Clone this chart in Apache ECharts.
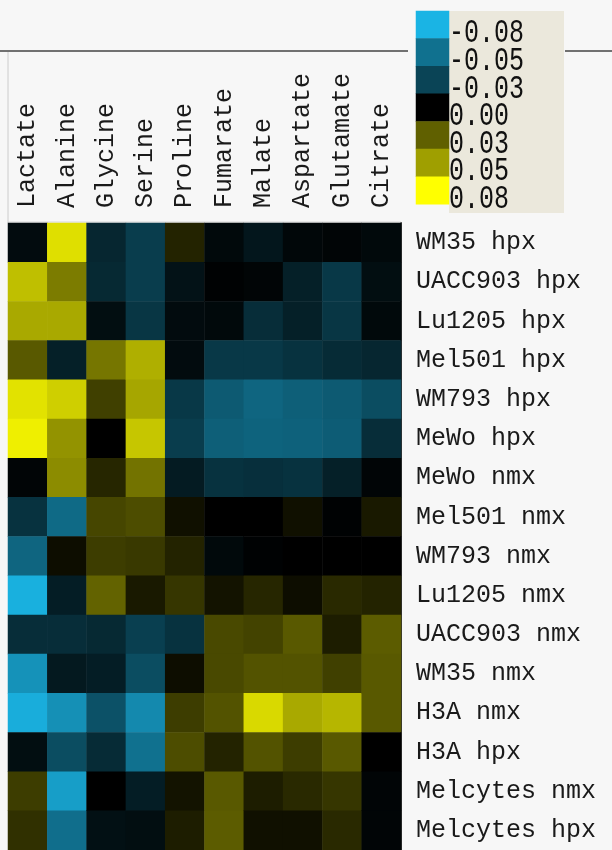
<!DOCTYPE html>
<html>
<head>
<meta charset="utf-8">
<script src="https://cdn.jsdelivr.net/npm/echarts@6/dist/echarts.min.js"></script>
<style>
  html, body { margin: 0; padding: 0; background: #f7f7f7; }
  #chart { width: 612px; height: 850px; }
</style>
</head>
<body>
<div id="chart"></div>
<script>
// Metabolites (columns) and cell-line samples (rows)
const metabolites = ['Lactate', 'Alanine', 'Glycine', 'Serine', 'Proline',
  'Fumarate', 'Malate', 'Aspartate', 'Glutamate', 'Citrate'];
const samples = ['WM35 hpx', 'UACC903 hpx', 'Lu1205 hpx', 'Mel501 hpx', 'WM793 hpx',
  'MeWo hpx', 'MeWo nmx', 'Mel501 nmx', 'WM793 nmx', 'Lu1205 nmx', 'UACC903 nmx',
  'WM35 nmx', 'H3A nmx', 'H3A hpx', 'Melcytes nmx', 'Melcytes hpx'];

// Values per metabolite, one entry per sample (same order as samples)
const lactate   = [-0.005, 0.060, 0.053, 0.028, 0.071, 0.075, -0.002, -0.022, -0.045, -0.078, -0.020, -0.065, -0.077, -0.006, 0.019, 0.015];
const alanine   = [0.070, 0.039, 0.053, -0.014, 0.065, 0.046, 0.044, -0.047, 0.004, -0.013, -0.020, -0.011, -0.064, -0.034, -0.070, -0.049];
const glycine   = [-0.017, -0.018, -0.006, 0.037, 0.020, 0.000, 0.012, 0.022, 0.019, 0.031, -0.018, -0.013, -0.036, -0.019, 0.000, -0.007];
const serine    = [-0.027, -0.027, -0.024, 0.055, 0.052, 0.062, 0.036, 0.024, 0.018, 0.008, -0.028, -0.034, -0.061, -0.050, -0.013, -0.006];
const proline   = [0.011, -0.008, -0.005, -0.005, -0.025, -0.027, -0.012, 0.005, 0.011, 0.017, -0.022, 0.004, 0.019, 0.024, 0.006, 0.009];
const fumarate  = [-0.004, -0.001, -0.004, -0.025, -0.040, -0.042, -0.022, 0.000, -0.004, 0.006, 0.023, 0.023, 0.026, 0.011, 0.028, 0.029];
const malate    = [-0.010, -0.002, -0.020, -0.025, -0.045, -0.044, -0.021, 0.000, -0.001, 0.012, 0.021, 0.026, 0.068, 0.026, 0.009, 0.005];
const aspartate = [-0.003, -0.014, -0.014, -0.022, -0.042, -0.043, -0.022, 0.005, 0.000, 0.004, 0.028, 0.026, 0.053, 0.019, 0.013, 0.005];
const glutamate = [-0.002, -0.025, -0.024, -0.019, -0.040, -0.041, -0.014, -0.001, 0.000, 0.013, 0.009, 0.020, 0.057, 0.028, 0.017, 0.013];
const citrate   = [-0.004, -0.006, -0.004, -0.017, -0.034, -0.020, -0.002, 0.008, 0.000, 0.011, 0.029, 0.028, 0.028, 0.000, -0.002, -0.002];

// Colour key ticks
const legendTicks  = [-0.08, -0.05, -0.03, 0.00, 0.03, 0.05, 0.08];
const legendLabels = ['-0.08', '-0.05', '-0.03', '0.00', '0.03', '0.05', '0.08'];

const columns = [lactate, alanine, glycine, serine, proline, fumarate, malate, aspartate, glutamate, citrate];
const cells = [];
columns.forEach((col, x) => col.forEach((v, y) => cells.push([x, y, v])));
const keyCells = legendTicks.map((v, i) => [0, i, v]);

const MONO = '"Liberation Mono", "DejaVu Sans Mono", monospace';
const TEXT = '#1a1a1a';

const chart = echarts.init(document.getElementById('chart'), null, { renderer: 'canvas' });

const option = {
  backgroundColor: '#f7f7f7',
  animation: false,
  grid: [
    { left: 8, right: 211, top: 223, bottom: 0 },
    { left: 416, width: 33, top: 11, height: 193.3 }
  ],
  xAxis: [
    {
      gridIndex: 0, type: 'category', data: metabolites, position: 'top',
      axisLine: { show: false }, axisTick: { show: false }, splitLine: { show: false },
      axisLabel: { rotate: -90, margin: 15, fontFamily: MONO, fontSize: 25, color: TEXT }
    },
    { gridIndex: 1, type: 'category', data: [''], show: false }
  ],
  yAxis: [
    {
      gridIndex: 0, type: 'category', data: samples, inverse: true, position: 'right',
      axisLine: { show: true, lineStyle: { color: '#333333', width: 2 } },
      axisTick: { show: false }, splitLine: { show: false },
      axisLabel: { margin: 15, fontFamily: MONO, fontSize: 25, color: TEXT }
    },
    { gridIndex: 1, type: 'category', data: legendLabels, inverse: true, show: false }
  ],
  visualMap: {
    type: 'continuous', show: false, min: -0.08, max: 0.08, seriesIndex: [0, 1],
    inRange: { color: ['#1ab4e4', '#000000', '#ffff00'] }
  },
  graphic: [
    // frame line across the top of the label panel
    { type: 'line', z: 1, shape: { x1: 0, y1: 51, x2: 408, y2: 51 }, style: { stroke: '#444444', lineWidth: 1.5 } },
    { type: 'line', z: 1, shape: { x1: 565, y1: 51, x2: 612, y2: 51 }, style: { stroke: '#444444', lineWidth: 1.5 } },
    { type: 'line', z: 1, shape: { x1: 8, y1: 52, x2: 8, y2: 223 }, style: { stroke: '#cccccc', lineWidth: 1 } },
    { type: 'line', z: 1, shape: { x1: 8, y1: 222, x2: 401, y2: 222 }, style: { stroke: '#d6d6d6', lineWidth: 1 } },
    // key background
    { type: 'rect', z: 0, shape: { x: 449, y: 11, width: 115, height: 202 }, style: { fill: '#ebe8dc' } }
  ],
  series: [
    { type: 'heatmap', xAxisIndex: 0, yAxisIndex: 0, data: cells },
    { type: 'heatmap', xAxisIndex: 1, yAxisIndex: 1, data: keyCells }
  ]
};
chart.setOption(option);

// Key labels, placed beside each swatch using the key axis positions
const keyText = legendLabels.map((txt, i) => {
  const pt = chart.convertToPixel({ gridIndex: 1 }, [0, i]);
  return {
    type: 'text', z: 5, x: 449, y: pt[1] + 9, scaleY: 1.3,
    style: { text: txt, fontFamily: MONO, fontSize: 25, fill: '#111111', align: 'left', verticalAlign: 'middle' }
  };
});
chart.setOption({ graphic: option.graphic.concat(keyText) });
</script>
</body>
</html>
